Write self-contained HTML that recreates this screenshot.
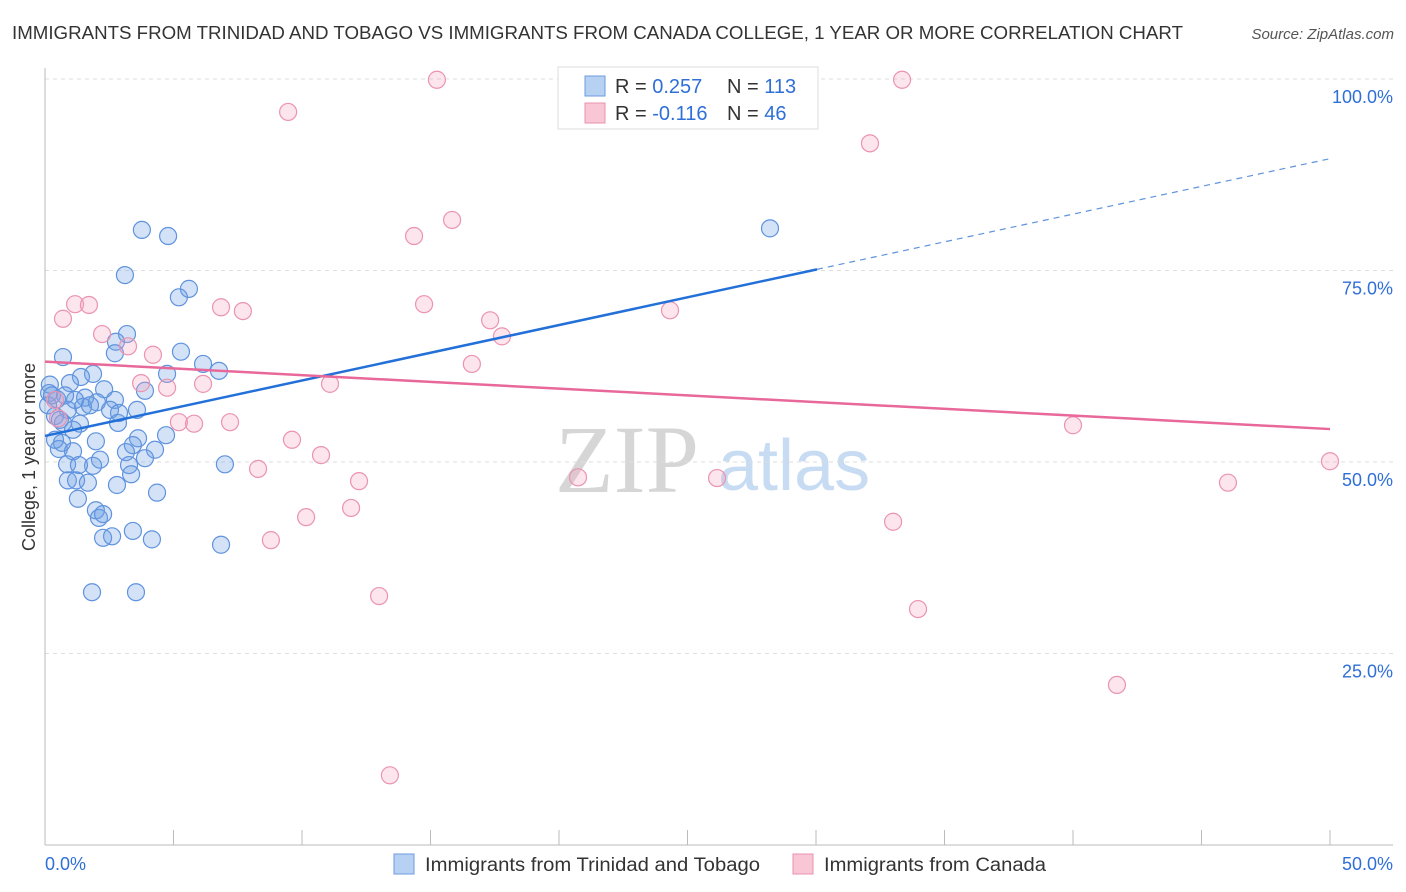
<!DOCTYPE html>
<html><head><meta charset="utf-8">
<style>
body{margin:0;background:#fff;font-family:"Liberation Sans",sans-serif;}
#wrap{position:relative;width:1406px;height:892px;overflow:hidden;}
</style></head>
<body><div id="wrap">
<svg id="svg" width="1406" height="892" xmlns="http://www.w3.org/2000/svg">
<text x="12" y="39" font-size="18" fill="#333" textLength="1171" lengthAdjust="spacingAndGlyphs">IMMIGRANTS FROM TRINIDAD AND TOBAGO VS IMMIGRANTS FROM CANADA COLLEGE, 1 YEAR OR MORE CORRELATION CHART</text>
<text x="1394" y="39" font-size="15" fill="#555" font-style="italic" text-anchor="end">Source: ZipAtlas.com</text>
<text x="35" y="457" font-size="18" fill="#333" text-anchor="middle" transform="rotate(-90 35 457)">College, 1 year or more</text>
<text x="555" y="492" font-size="96" fill="#d6d6d6" font-family="Liberation Serif,serif">ZIP</text>
<text x="718" y="490" font-size="72" fill="#c7dcf3">atlas</text>
<g id="grid"></g><g id="axes"></g><g id="pts"></g><g id="lines"></g>
<g>
<rect x="558" y="67" width="260" height="62" fill="#fff" stroke="#ddd"/>
<rect x="585" y="76" width="20" height="20" fill="#b7d1f3" stroke="#6c9be0"/>
<rect x="585" y="103" width="20" height="20" fill="#f8c6d5" stroke="#e891ad"/>
<text x="615" y="93" font-size="20" fill="#333">R = <tspan fill="#2f6fd8">0.257</tspan><tspan x="727">N = </tspan><tspan fill="#2f6fd8">113</tspan></text>
<text x="615" y="120" font-size="20" fill="#333">R = <tspan fill="#2f6fd8">-0.116</tspan><tspan x="727">N = </tspan><tspan fill="#2f6fd8"> 46</tspan></text>
</g>
<g>
<rect x="394" y="854" width="20" height="20" fill="#b7d1f3" stroke="#6c9be0"/>
<text x="425" y="871" font-size="19" fill="#333" textLength="335" lengthAdjust="spacingAndGlyphs">Immigrants from Trinidad and Tobago</text>
<rect x="793" y="854" width="20" height="20" fill="#f8c6d5" stroke="#e891ad"/>
<text x="824" y="871" font-size="19" fill="#333" textLength="222" lengthAdjust="spacingAndGlyphs">Immigrants from Canada</text>
</g>
</svg></div>
<script>
const blueX=[3.77,4.79,3.11,5.60,5.21,3.19,2.76,2.72,5.29,0.70,6.15,6.77,1.87,4.75,1.40,0.97,2.30,3.89,0.19,0.16,0.47,1.56,2.72,1.48,2.02,2.53,0.89,3.58,0.39,2.88,1.36,2.84,0.70,1.09,3.62,0.66,1.98,3.42,4.28,3.15,0.54,1.09,4.71,2.14,3.89,3.27,1.87,0.86,7.00,1.32,2.80,3.35,0.89,1.21,1.67,4.36,1.28,1.98,2.10,2.26,3.42,2.26,2.61,4.16,6.85,1.83,3.54,28.21,0.39,0.12,0.27,0.58,1.17,1.75,0.78];
const blueY=[80.3,79.5,74.4,72.6,71.5,66.7,65.7,64.2,64.4,63.7,62.8,61.9,61.5,61.5,61.1,60.3,59.5,59.3,60.1,59.0,58.2,58.4,58.1,57.2,57.8,56.8,56.8,56.8,56.0,56.4,55.0,55.1,55.1,54.2,53.1,52.5,52.7,52.2,51.6,51.3,51.7,51.4,53.5,50.3,50.5,49.6,49.5,49.7,49.7,49.6,47.0,48.4,47.6,47.6,47.3,46.0,45.2,43.7,42.7,43.2,41.0,40.1,40.3,39.9,39.2,33.0,33.0,80.5,52.9,57.4,58.7,55.5,58.1,57.4,58.7];
const pinkX=[15.25,33.35,9.46,32.10,15.84,14.36,6.85,7.70,14.75,17.32,24.32,17.78,0.70,1.17,1.71,2.22,3.23,4.20,4.75,3.74,6.15,11.09,16.61,5.21,5.80,7.20,9.61,10.74,40.00,50.0,8.29,20.74,26.15,12.22,46.03,11.91,10.16,33.0,8.79,13.0,33.97,41.71,13.42,0.39,0.51];
const pinkY=[99.9,99.9,95.7,91.6,81.6,79.5,70.2,69.7,70.6,68.5,69.8,66.4,68.7,70.6,70.5,66.7,65.1,64.0,59.7,60.3,60.2,60.2,62.8,55.2,55.0,55.2,52.9,50.9,54.8,50.1,49.1,48.0,47.9,47.5,47.3,44.0,42.8,42.2,39.8,32.5,30.8,20.9,9.1,58.1,55.7];
const blueTrend=[53.4,89.6];
const pinkTrend=[63.1,54.3];
const yTicks=[25,50,75,100];
const yTickLabels=["25.0%","50.0%","75.0%","100.0%"];
const xTickLabels=["0.0%","50.0%"];
const NS="http://www.w3.org/2000/svg";
const sx=v=>45+v*25.7, sy=v=>845-v*7.66;
function mk(tag,attrs,parent){const e=document.createElementNS(NS,tag);for(const k in attrs)e.setAttribute(k,attrs[k]);parent.appendChild(e);return e;}
const grid=document.getElementById('grid'),axes=document.getElementById('axes'),pts=document.getElementById('pts'),lines=document.getElementById('lines');
yTicks.forEach((t,i)=>{
 const l=mk('line',{x1:45,x2:1393,y1:sy(t),y2:sy(t),stroke:'#ddd','stroke-dasharray':'4,4'},grid);
 
 
 const tx=mk('text',{x:1393,y:sy(t)+24,'font-size':18,fill:'#2f6fd8','text-anchor':'end'},grid);
 tx.textContent=yTickLabels[i];
 
 
});
const ax=mk('line',{x1:45,x2:45,y1:68,y2:845,stroke:'#bbb'},axes);


const bx=mk('line',{x1:45,x2:1393,y1:845,y2:845,stroke:'#bbb'},axes);


for(let i=0;i<=10;i++){const t=mk('line',{x1:sx(i*5),x2:sx(i*5),y1:830,y2:845,stroke:'#bbb'},axes);
 
 }
[[0,'start',45],[50,'end',1393]].forEach((d,i)=>{const t=mk('text',{x:d[2],y:870,'font-size':18,fill:'#2f6fd8','text-anchor':d[1]},axes);t.textContent=xTickLabels[i];
 
 });
function dots(X,Y,fill,stroke,name){X.forEach((x,i)=>{const c=mk('circle',{cx:sx(x),cy:sy(Y[i]),r:8.5,fill:fill,stroke:stroke,'stroke-width':1.2},pts);
 
 });}
dots(blueX,blueY,'rgba(110,160,230,0.3)','#5f93de','point-trinidad');
dots(pinkX,pinkY,'rgba(245,160,190,0.28)','#eb93b0','point-canada');
const bm=30.04, bym=blueTrend[0]+(blueTrend[1]-blueTrend[0])*bm/50;
const b1=mk('line',{x1:sx(0),y1:sy(blueTrend[0]),x2:sx(bm),y2:sy(bym),stroke:'#2270d8','stroke-width':2.5},lines);


const b2=mk('line',{x1:sx(bm),y1:sy(bym),x2:sx(50),y2:sy(blueTrend[1]),stroke:'#5f93de','stroke-width':1.2,'stroke-dasharray':'6,5'},lines);


const p1=mk('line',{x1:sx(0),y1:sy(pinkTrend[0]),x2:sx(50),y2:sy(pinkTrend[1]),stroke:'#e8689a','stroke-width':2.5},lines);


</script>
</body></html>
